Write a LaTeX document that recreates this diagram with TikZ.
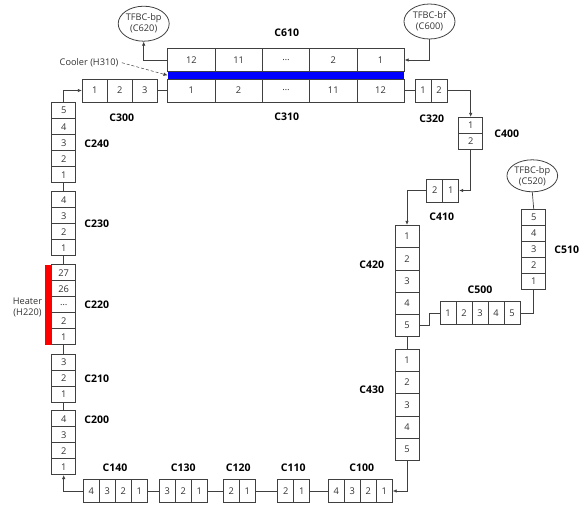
\documentclass[tikz,border=0pt]{standalone}
\usepackage{fontspec}
\setmainfont{Open Sans}
\usetikzlibrary{arrows.meta, positioning, shapes.geometric}
\definecolor{linegray}{HTML}{404040}

\begin{document}
\begin{tikzpicture}[x=1pt, y=-1pt,
      cell/.style={draw, linegray, line width=0.8pt, text=black!80, inner sep=0pt,
        font=\fontsize{9.3}{10}\selectfont},
      vcell/.style={cell, minimum width=24pt, minimum height=16pt},
      hcell/.style={cell, minimum width=16pt, minimum height=23pt},
      tcell/.style={cell, minimum width=25pt, minimum height=23pt},
      wcell/.style={cell, minimum width=47.3pt, minimum height=23pt},
      bcell/.style={cell, minimum width=24pt, minimum height=22.3pt},
      tank/.style={draw, linegray, line width=0.8pt, ellipse, inner sep=0pt,
        minimum width=51pt, minimum height=35pt, align=center, text=black!80,
        font=\fontsize{9.2}{11}\selectfont},
      lbl/.style={font=\fontsize{10.5}{12}\selectfont\bfseries},
      txt/.style={align=center, text=black!80, font=\fontsize{9.2}{11.5}\selectfont},
      pipe/.style={linegray, line width=0.7pt},
      arr/.style={pipe, -{Latex[length=4pt, width=3.5pt]}},
    ]
    \useasboundingbox (0,0) rectangle (584,506);
    % --- left column, bottom to top -----------------------------------
    \foreach \t [count=\k] in {5,4,3,2,1}
      \node[vcell] (c240-\k) at (63.7, 94.7+16*\k) {\t};
    \foreach \t [count=\k] in {4,3,2,1}
      \node[vcell] (c230-\k) at (63.7, 183.7+16*\k) {\t};
    \foreach \t [count=\k] in {27,26,\ldots,2,1}
      \node[vcell] (c220-\k) at (63.7, 256.7+16*\k) {\t};
    \foreach \t [count=\k] in {3,2,1}
      \node[vcell] (c210-\k) at (63.7, 346.3+16*\k) {\t};
    \foreach \t [count=\k] in {4,3,2,1}
      \node[vcell] (c200-\k) at (63.7, 402.7+16*\k) {\t};
    % --- bottom row ---------------------------------------------------
    \foreach \t [count=\k] in {4,3,2,1}
      \node[hcell] (c140-\k) at (75.3+16*\k, 491) {\t};
    \foreach \t [count=\k] in {3,2,1}
      \node[hcell] (c130-\k) at (151.3+16*\k, 491) {\t};
    \foreach \t [count=\k] in {2,1}
      \node[hcell] (c120-\k) at (215.3+16*\k, 491) {\t};
    \foreach \t [count=\k] in {2,1}
      \node[hcell] (c110-\k) at (269.7+16*\k, 491) {\t};
    \foreach \t [count=\k] in {4,3,2,1}
      \node[hcell] (c100-\k) at (320.3+16*\k, 491) {\t};
    % --- top row ------------------------------------------------------
    \foreach \t [count=\k] in {1,2,3}
      \node[tcell] (c300-\k) at (69.8+25*\k, 90.5) {\t};
    \foreach \t [count=\k] in {1,2,\ldots,11,12}
      \node[wcell] (c310-\k) at (144.05+47.3*\k, 90.5) {\t};
    \foreach \t [count=\k] in {12,11,\ldots,2,1}
      \node[wcell] (c610-\k) at (144.05+47.3*\k, 60) {\t};
    \foreach \t [count=\k] in {1,2}
      \node[hcell] (c320-\k) at (407+16*\k, 90.5) {\t};
    % --- right side ---------------------------------------------------
    \foreach \t [count=\k] in {1,2}
      \node[vcell] (c400-\k) at (470.7, 109.3+16*\k) {\t};
    \foreach \t [count=\k] in {2,1}
      \node[hcell] (c410-\k) at (418.7+16*\k, 190.5) {\t};
    \foreach \t [count=\k] in {1,2,3,4,5}
      \node[bcell] (c420-\k) at (407, 214.15+22.3*\k) {\t};
    \foreach \t [count=\k] in {1,2,3,4,5}
      \node[bcell] (c430-\k) at (407, 337.85+22.3*\k) {\t};
    \foreach \t [count=\k] in {1,2,3,4,5}
      \node[hcell] (c500-\k) at (432+16*\k, 313.3) {\t};
    \foreach \t [count=\k] in {5,4,3,2,1}
      \node[vcell] (c510-\k) at (533.7, 201.3+16*\k) {\t};
    % --- heater and cooler --------------------------------------------
    \node[fill=blue, inner sep=0pt, minimum width=236.6pt, minimum height=7.5pt]
      (h310) at (286, 75.25) {};
    \node[fill=red, inner sep=0pt, minimum width=6.7pt, minimum height=80pt]
      (h220) at (48.3, 304.7) {};
    \node[txt] (cooler) at (89, 62.7) {Cooler (H310)};
    \node[txt] (heater) at (27.5, 307.5) {Heater\\(H220)};
    % --- tanks --------------------------------------------------------
    \node[tank] (c620) at (143.7, 23.7) {TFBC-bp\\(C620)};
    \node[tank] (c600) at (429.5, 21.5) {TFBC-bf\\(C600)};
    \node[tank, minimum height=32pt, minimum width=50pt] (c520) at (532.3, 175.8) {TFBC-bp\\(C520)};
    % --- column labels ------------------------------------------------
    \node[lbl] (l610) at (286.7, 32.3) {C610};
    \node[lbl] (l310) at (286.7, 116.7) {C310};
    \node[lbl] (l300) at (121.7, 117.3) {C300};
    \node[lbl] (l320) at (431.7, 118.3) {C320};
    \node[lbl] (l400) at (506.7, 134) {C400};
    \node[lbl] (l410) at (441.7, 216.7) {C410};
    \node[lbl] (l420) at (371.7, 265) {C420};
    \node[lbl] (l430) at (371.7, 390) {C430};
    \node[lbl] (l500) at (480, 289.3) {C500};
    \node[lbl] (l510) at (566.7, 250) {C510};
    \node[lbl] (l240) at (96.7, 143.3) {C240};
    \node[lbl] (l230) at (96.7, 223.3) {C230};
    \node[lbl] (l220) at (96.7, 305) {C220};
    \node[lbl] (l210) at (96.7, 378.3) {C210};
    \node[lbl] (l200) at (96.7, 420) {C200};
    \node[lbl] (l140) at (115, 467.7) {C140};
    \node[lbl] (l130) at (183.3, 467.7) {C130};
    \node[lbl] (l120) at (238.3, 467.7) {C120};
    \node[lbl] (l110) at (293.3, 467.7) {C110};
    \node[lbl] (l100) at (361.7, 467.7) {C100};
    % --- connectors ---------------------------------------------------
    \draw[arr] (c240-1.north) |- (c300-1.west);
    \draw[pipe] (c300-3.east) -- (c310-1.west);
    \draw[pipe] (c310-5.east) -- (c320-1.west);
    \draw[arr] (c320-2.east) -| (c400-1.north);
    \draw[arr] (c400-2.south) |- (c410-2.east);
    \draw[arr] (c410-1.west) -| (c420-1.north);
    \draw[pipe] (c420-5.south) -- (c430-1.north);
    \draw[arr] (c430-5.south) |- (c100-4.east);
    \draw[pipe] (c100-1.west) -- (c110-2.east);
    \draw[pipe] (c110-1.west) -- (c120-2.east);
    \draw[pipe] (c120-1.west) -- (c130-3.east);
    \draw[pipe] (c130-1.west) -- (c140-4.east);
    \draw[arr] (c140-1.west) -| (c200-4.south);
    \draw[pipe] (c200-1.north) -- (c210-3.south);
    \draw[pipe] (c210-1.north) -- (c220-5.south);
    \draw[pipe] (c220-1.north) -- (c230-4.south);
    \draw[pipe] (c230-1.north) -- (c240-5.south);
    \draw[arr] (c610-1.west) -| (c620.south);
    \draw[arr] (c600.south) |- (c610-5.east);
    \draw[pipe] (c420-5.east) -- ++(10,0) |- (c500-1.west);
    \draw[pipe] (c510-5.south) |- (c500-5.east);
    \draw[pipe] (c520.south) -- (c510-1.north);
    \draw[arr, densely dashed, line width=0.5pt] (cooler.east) -- (h310.west);
  \end{tikzpicture}
\end{document}
